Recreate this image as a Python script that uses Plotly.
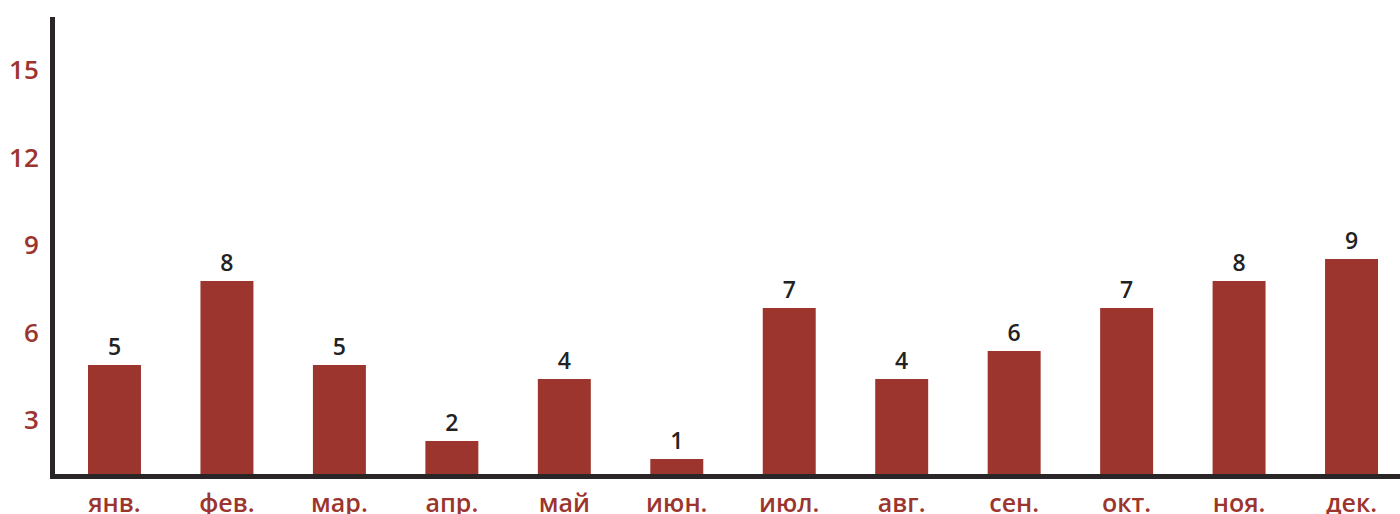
import plotly.graph_objects as go

months = ["янв.", "фев.", "мар.", "апр.", "май", "июн.", "июл.", "авг.", "сен.", "окт.", "ноя.", "дек."]
values = [4.89, 7.77, 4.89, 2.28, 4.41, 1.66, 6.84, 4.41, 5.37, 6.84, 7.77, 8.52]
value_labels = ["5", "8", "5", "2", "4", "1", "7", "4", "6", "7", "8", "9"]
y_ticks = [3, 6, 9, 12, 15]
y_tick_labels = ["3", "6", "9", "12", "15"]

RED = "#9b352e"
DARK = "#2a2627"
FONT = "Open Sans"

fig = go.Figure(
    go.Bar(
        x=months,
        y=values,
        text=value_labels,
        textposition="outside",
        cliponaxis=False,
        textfont=dict(family=FONT, size=23, color="#222222", weight=600),
        marker=dict(color=RED, line=dict(width=0)),
        hoverinfo="skip",
    )
)

fig.update_layout(
    width=1400,
    height=514,
    margin=dict(l=55, r=0, t=17, b=40),
    paper_bgcolor="white",
    plot_bgcolor="white",
    bargap=0.529,
    showlegend=False,
    font=dict(family=FONT),
)

fig.update_xaxes(
    range=[-0.529, 11.431],
    automargin=False,
    showline=True,
    linecolor=DARK,
    linewidth=5,
    showgrid=False,
    zeroline=False,
    ticks="",
    tickfont=dict(family=FONT, size=25, color=RED, weight=600),
    ticklabelstandoff=3,
)

fig.update_yaxes(
    range=[1.149, 16.817],
    automargin=False,
    tickvals=y_ticks,
    ticktext=y_tick_labels,
    showline=True,
    linecolor=DARK,
    linewidth=5,
    showgrid=False,
    zeroline=False,
    ticks="",
    tickfont=dict(family=FONT, size=26, color=RED, weight=600),
    ticklabelstandoff=6,
)

fig.write_html(
    "out.html",
    config={"displayModeBar": False},
    post_script="document.body.style.margin='0';document.body.style.overflow='hidden';",
)
